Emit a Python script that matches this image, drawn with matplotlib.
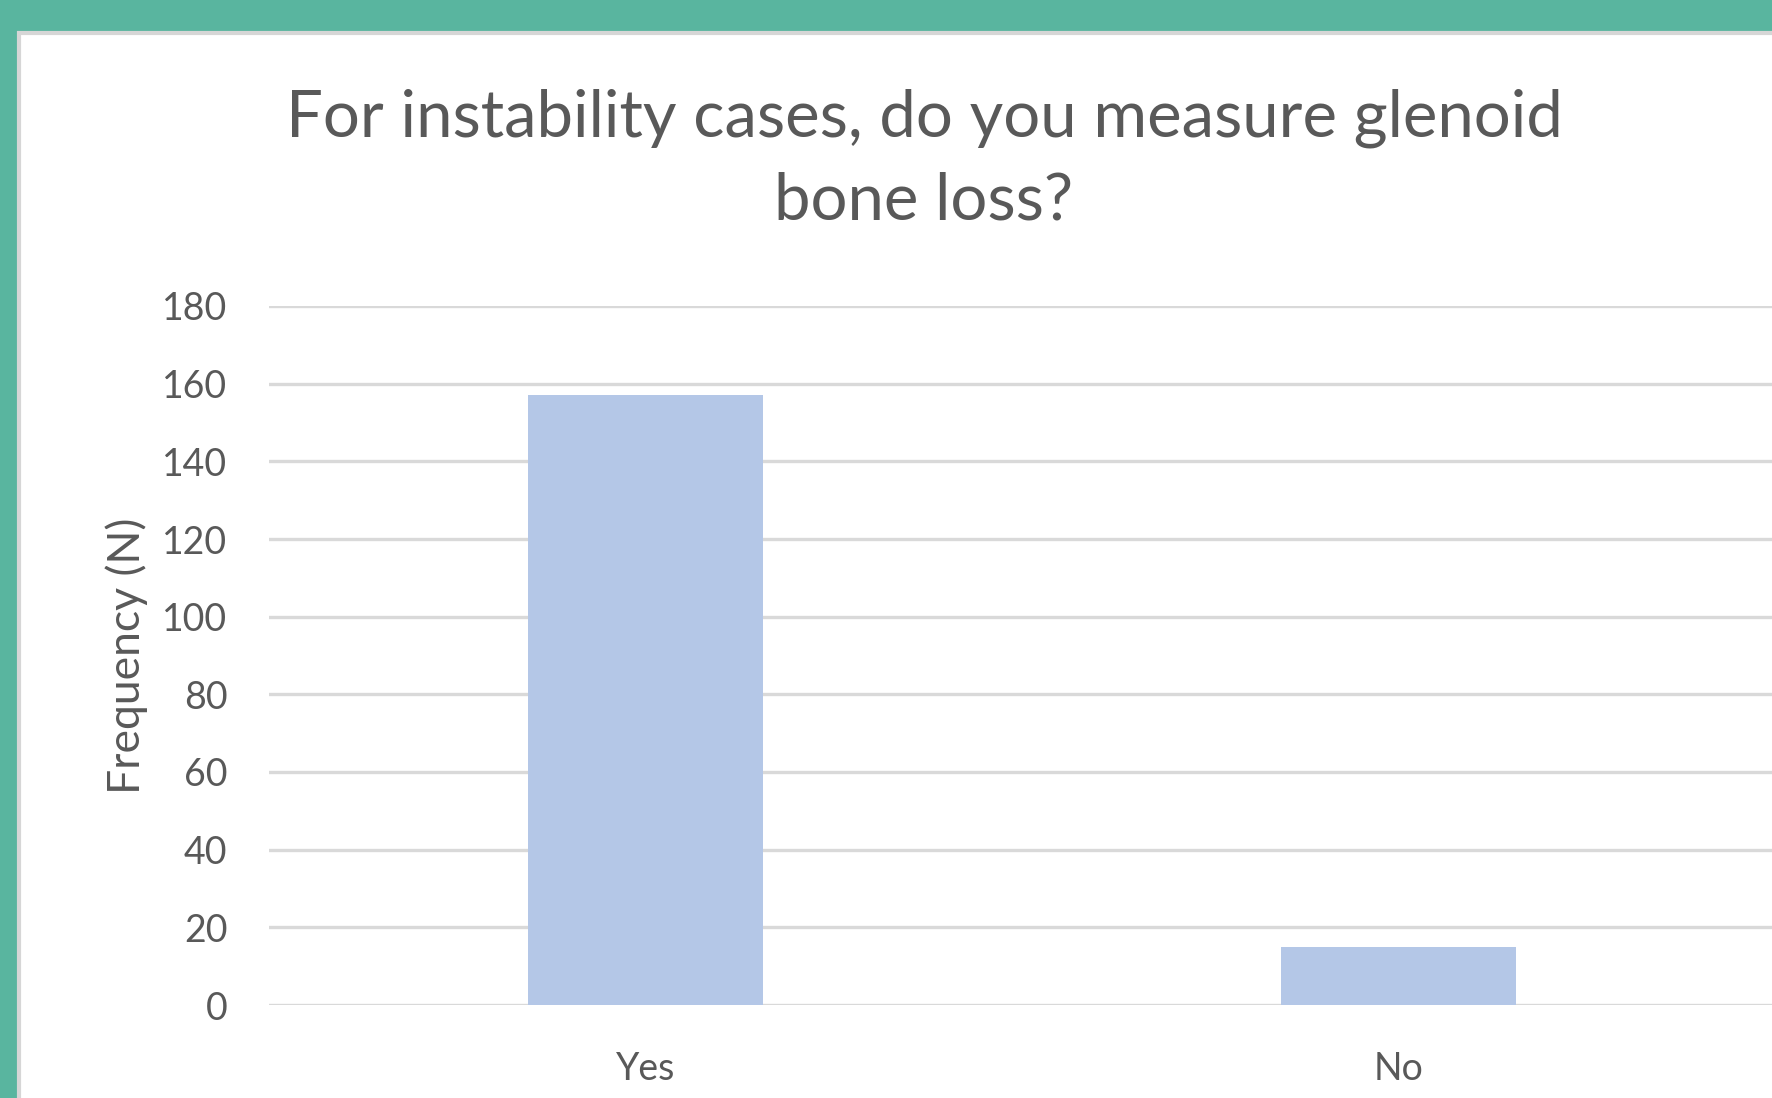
import matplotlib
matplotlib.use("Agg")
import matplotlib.pyplot as plt
from matplotlib.patches import Rectangle

categories = ["Yes", "No"]
counts = [157, 15]
y_ticks = [0, 20, 40, 60, 80, 100, 120, 140, 160, 180]

green = "#59B59F"
bar_col = "#B4C7E7"
grid_col = "#D9D9D9"
text_col = "#595959"

plt.rcParams['font.family'] = ['Lato', 'DejaVu Sans']

W, H = 1772, 1098
fig = plt.figure(figsize=(W / 100, H / 100), dpi=100, facecolor=green)

# white chart area with thin grey rim
fig.patches.append(Rectangle((19 / W, -0.02), (W - 19) / W + 0.02, (H - 33) / H + 0.02,
                             transform=fig.transFigure, facecolor="white",
                             edgecolor="#D6D6D6", linewidth=3, zorder=-5))

ax = fig.add_axes([269 / W, 93 / H, 1506 / W, 699 / H])
ax.set_facecolor("none")
ax.bar(range(len(categories)), counts, width=0.311, color=bar_col, zorder=2)
ax.set_xlim(-0.5, 1.5)
ax.set_ylim(0, 180)
ax.set_yticks(y_ticks)
ax.set_xticks(range(len(categories)))
ax.set_xticklabels(categories)
ax.yaxis.grid(True, color=grid_col, linewidth=2.4, zorder=0)
ax.set_axisbelow(True)
for s in ax.spines.values():
    s.set_visible(False)
ax.tick_params(axis="both", length=0, colors=text_col, labelsize=27)
ax.tick_params(axis="y", pad=30)
ax.tick_params(axis="x", pad=33)
ax.set_ylabel("Frequency (N)", fontsize=32, color=text_col, labelpad=10)

fig.text(924 / W, 1 - 137 / H, "For instability cases, do you measure glenoid",
         ha="center", va="baseline", fontsize=47, color=text_col)
fig.text(924 / W, 1 - 220 / H, "bone loss?",
         ha="center", va="baseline", fontsize=47, color=text_col)

fig.savefig("out.png", dpi=100, facecolor=green)
